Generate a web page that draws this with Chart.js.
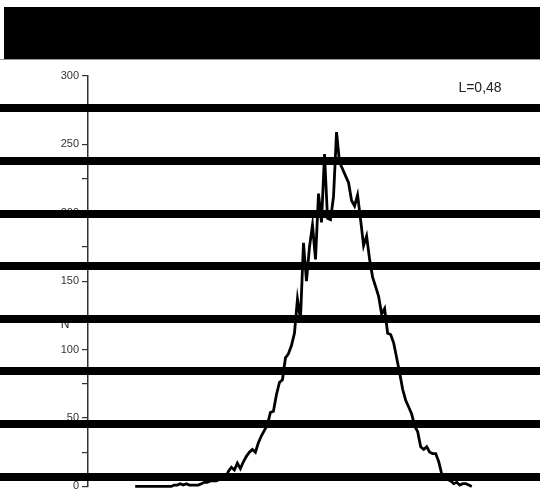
<!DOCTYPE html>
<html>
<head>
<meta charset="utf-8">
<script src="https://cdn.jsdelivr.net/npm/chart.js@4/dist/chart.umd.min.js"></script>
<style>
  html, body { margin: 0; padding: 0; background: #fff; }
  #wrap { position: relative; width: 540px; height: 496px; }
</style>
</head>
<body>
<div id="wrap"><canvas id="chart"></canvas></div>
<script>
/* ── Data ──────────────────────────────────────────────── */
// histogram counts, one per bin, left to right
const counts = [
  0, 0, 0, 0, 0, 0, 0, 0, 0, 0, 0, 0, 0, 1, 1, 2, 1, 2, 1, 1,
  1, 1, 2, 3, 3, 4, 4, 4, 5, 5, 6, 11, 14, 12, 17, 13, 18, 22, 25, 27,
  25, 32, 37, 41, 45, 54, 55, 67, 76, 78, 94, 97, 103, 112, 137, 122, 178, 150, 175, 191,
  166, 214, 193, 243, 196, 195, 212, 259, 237, 232, 227, 222, 209, 205, 213, 195, 176, 183, 166, 153,
  146, 139, 126, 130, 112, 111, 105, 94, 83, 71, 63, 58, 53, 44, 40, 29, 27, 29, 25, 24,
  24, 18, 9, 7, 5, 4, 2, 3, 1, 2, 2, 1, 0
];
const bins = counts.map((_, i) => i);
const yTicks = [0, 50, 100, 150, 200, 250, 300];
const axisTitle = 'N';
const note = 'L=0,48';

/* ── Overlay: black band, heavy rules, labels ──────────── */
const overlay = {
  id: 'overlay',
  afterDraw(chart) {
    const { ctx, width, scales: { y } } = chart;
    ctx.save();
    ctx.fillStyle = '#000';
    ctx.fillRect(4, 7, width - 4, 52);
    ctx.fillStyle = '#999';
    ctx.fillRect(0, 59, width, 1);

    ctx.fillStyle = '#222';
    ctx.font = '14px "Liberation Sans", Arial, sans-serif';
    ctx.textAlign = 'center';
    ctx.textBaseline = 'middle';
    ctx.fillText(note, 480, 88);

    // axis title
    ctx.font = '12px "Liberation Sans", Arial, sans-serif';
    ctx.fillText(axisTitle, y.left + 65, y.getPixelForValue(118));

    // heavy horizontal rules over everything
    ctx.fillStyle = '#000';
    [108, 161, 214, 266, 319, 371, 424, 477].forEach(cy => {
      ctx.fillRect(0, cy - 4, width, 8);
    });
    ctx.restore();
  }
};

new Chart(document.getElementById('chart'), {
  type: 'line',
  data: {
    datasets: [{
      data: bins.map((b, i) => ({ x: b, y: counts[i] })),
      borderColor: '#000',
      borderWidth: 2.8,
      pointRadius: 0,
      tension: 0,
      clip: 6,
    }],
  },
  options: {
    responsive: true,
    maintainAspectRatio: false,
    animation: false,
    layout: { padding: { top: 76, bottom: 3, left: 0, right: 0 } },
    plugins: { legend: { display: false }, tooltip: { enabled: false } },
    scales: {
      x: { type: 'linear', display: false, min: -15.7, max: 134.7 },
      y: {
        min: 0,
        max: 300,
        afterFit: s => { s.width = 88; },
        afterBuildTicks: s => {
          const t = [];
          for (let v = 0; v <= 300; v += 25) t.push({ value: v });
          s.ticks = t;
        },
        border: { display: true, color: '#333', width: 1.5 },
        grid: { drawOnChartArea: false, drawTicks: true, tickLength: 6, color: '#333', lineWidth: 1.2 },
        ticks: {
          padding: 3,
          color: '#333',
          font: { family: '"Liberation Sans", Arial, sans-serif', size: 11 },
          callback: v => yTicks.includes(v) ? String(v) : '',
        },
      },
    },
  },
  plugins: [overlay],
});
</script>
</body>
</html>
